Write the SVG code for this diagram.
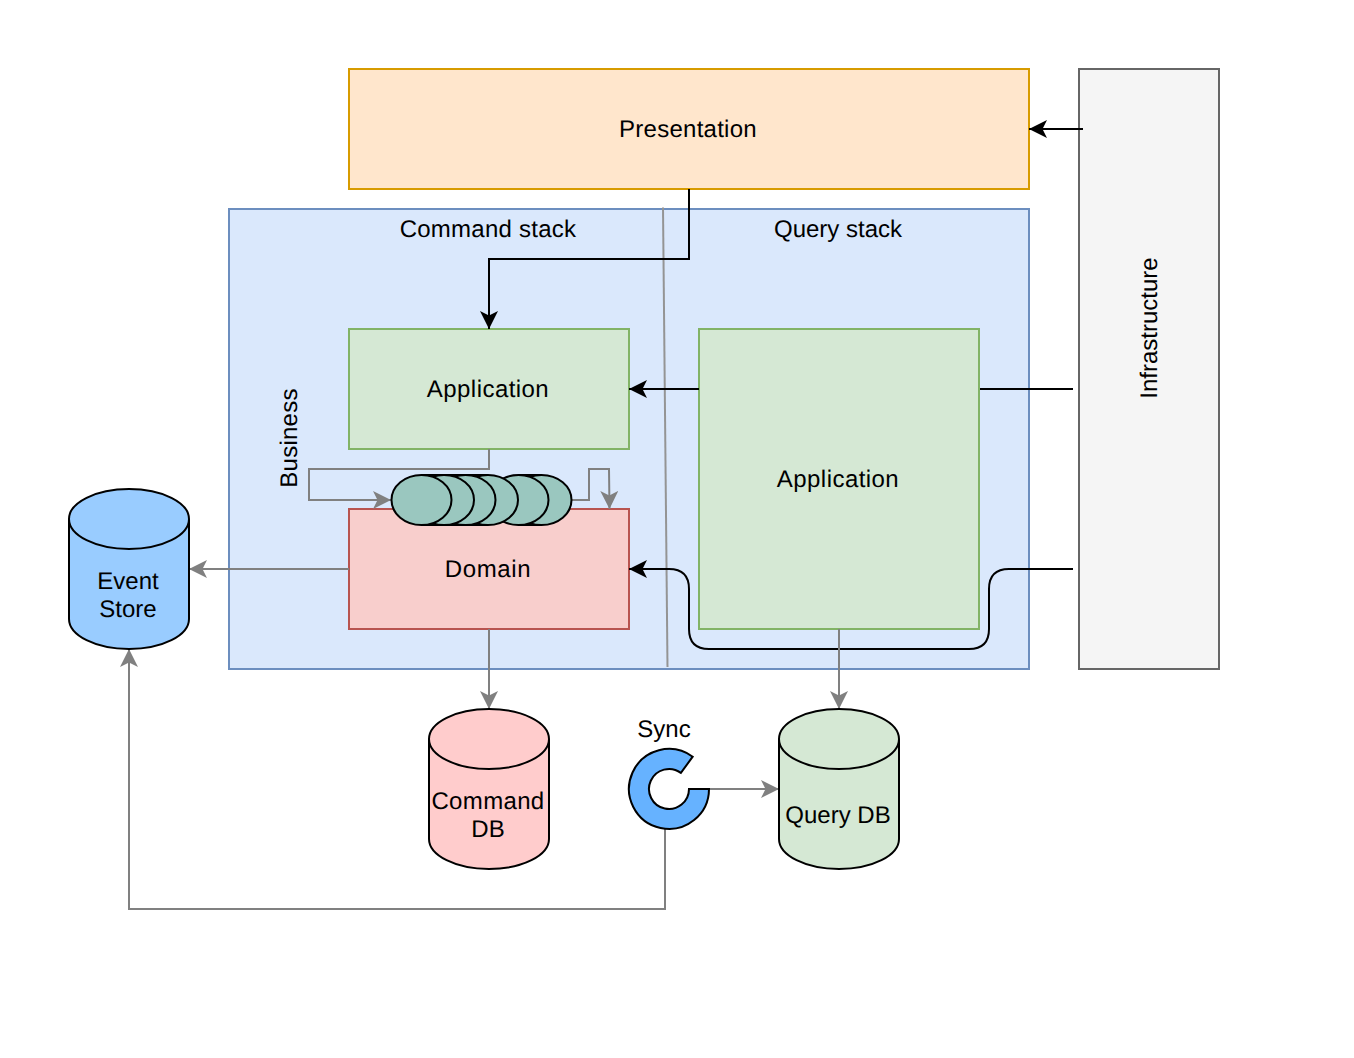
<svg xmlns="http://www.w3.org/2000/svg" width="1354" height="1058" viewBox="0 0 1354 1058">
<style>
text{font-family:"Liberation Sans",Arial,Helvetica,sans-serif;font-size:24px;fill:#000;text-anchor:middle;text-rendering:geometricPrecision}
.s{stroke-width:2}
.g{fill:none;stroke:#808080;stroke-width:2}
.k{fill:none;stroke:#000;stroke-width:2}
.o{fill:#9AC7BF;stroke:#000;stroke-width:2}
.f{fill:#9AC7BF;stroke:none}
.ls1{letter-spacing:.25px}
.ls2{letter-spacing:.45px}
.ls3{letter-spacing:.65px}
.ls4{letter-spacing:.35px}
</style>
<defs>
<marker id="ag" markerUnits="userSpaceOnUse" markerWidth="20" markerHeight="20" refX="18" refY="9" orient="auto"><path d="M0,0L18,9L0,18L4.500,9Z" fill="#808080"/></marker>
<marker id="ak" markerUnits="userSpaceOnUse" markerWidth="20" markerHeight="20" refX="18" refY="9" orient="auto"><path d="M0,0L18,9L0,18L4.500,9Z" fill="#000"/></marker>
</defs>
<rect width="1354" height="1058" fill="#fff"/>
<g id="stack"><rect class="s" x="229" y="209" width="800" height="460" fill="#dae8fc" stroke="#6c8ebf"/>
<text class="ls1" x="488" y="237">Command stack</text><text x="838" y="237">Query stack</text></g>
<g id="presentation"><rect class="s" x="349" y="69" width="680" height="120" fill="#ffe6cc" stroke="#d79b00"/><text class="ls1" x="688" y="137">Presentation</text></g>
<g id="infrastructure"><rect class="s" x="1079" y="69" width="140" height="600" fill="#f5f5f5" stroke="#666"/><text transform="translate(1157 328) rotate(-90)">Infrastructure</text></g>
<g id="cmd-application"><rect class="s" x="349" y="329" width="280" height="120" fill="#d5e8d4" stroke="#82b366"/><text class="ls2" x="488" y="397">Application</text></g>
<g id="query-application"><rect class="s" x="699" y="329" width="280" height="300" fill="#d5e8d4" stroke="#82b366"/><text class="ls2" x="838" y="487">Application</text></g>
<g id="domain"><rect class="s" x="349" y="509" width="280" height="120" fill="#f8cecc" stroke="#b85450"/><text class="ls3" x="488" y="577">Domain</text></g>
<g id="business-label"><text class="ls1" transform="translate(297 438) rotate(-90)">Business</text></g>
<g id="connectors">
<path class="g" d="M663 207.500L667.500 667" style="stroke:#949494"/>
<path class="k" d="M689 189V259H489V329" marker-end="url(#ak)"/>
<path class="k" d="M1083 129H1029" marker-end="url(#ak)"/>
<path class="k" d="M699 389H629" marker-end="url(#ak)"/>
<path class="k" d="M980 389H1073"/>
<path class="k" d="M1073 569H1009Q989 569 989 589V629Q989 649 969 649H709Q689 649 689 629V589Q689 569 669 569H629" marker-end="url(#ak)"/>
<path class="g" d="M489 449V469H309V500H391" marker-end="url(#ag)"/>
<path class="g" d="M571 500H589V469H609L609.500 509" marker-end="url(#ag)"/>
<path class="g" d="M349 569H189" marker-end="url(#ag)"/>
<path class="g" d="M489 629V709" marker-end="url(#ag)"/>
<path class="g" d="M839 629V709" marker-end="url(#ag)"/>
<path class="g" d="M709 789H779" marker-end="url(#ag)"/>
<path class="g" d="M665 829V909H129V649" marker-end="url(#ag)"/>
</g>
<g id="events">
<rect class="f" x="518.500" y="475" width="23" height="50"/><path class="k" d="M518.500 475H541.500M518.500 525H541.500"/>
<ellipse class="o" cx="541.500" cy="500" rx="30" ry="25"/>
<ellipse class="o" cx="518.500" cy="500" rx="30" ry="25"/>
<rect class="f" x="421.500" y="475" width="66.500" height="50"/><path class="k" d="M421.500 475H488M421.500 525H488"/>
<ellipse class="o" cx="488" cy="500" rx="30" ry="25"/>
<ellipse class="o" cx="465.500" cy="500" rx="30" ry="25"/>
<ellipse class="o" cx="444" cy="500" rx="30" ry="25"/>
<ellipse class="o" cx="421.500" cy="500" rx="30" ry="25"/>
</g>
<g id="event-store"><path class="s" d="M69 519A60 30 0 0 1 189 519V619A60 30 0 0 1 69 619Z" fill="#99ccff" stroke="#000"/><path class="k" d="M69 519A60 30 0 0 0 189 519"/><text x="128" y="589">Event</text><text x="128" y="617">Store</text></g>
<g id="command-db"><path class="s" d="M429 739A60 30 0 0 1 549 739V839A60 30 0 0 1 429 839Z" fill="#ffcccc" stroke="#000"/><path class="k" d="M429 739A60 30 0 0 0 549 739"/><text class="ls4" x="488" y="809">Command</text><text x="488" y="837">DB</text></g>
<g id="query-db"><path class="s" d="M779 739A60 30 0 0 1 899 739V839A60 30 0 0 1 779 839Z" fill="#d5e8d4" stroke="#000"/><path class="k" d="M779 739A60 30 0 0 0 899 739"/><text x="838" y="823">Query DB</text></g>
<g id="sync"><path class="s" d="M709 789A40 40 0 1 1 692.700 756.700L680.900 772.900A20 20 0 1 0 689 789Z" fill="#66b2ff" stroke="#000"/><text x="664" y="737">Sync</text></g>
</svg>
